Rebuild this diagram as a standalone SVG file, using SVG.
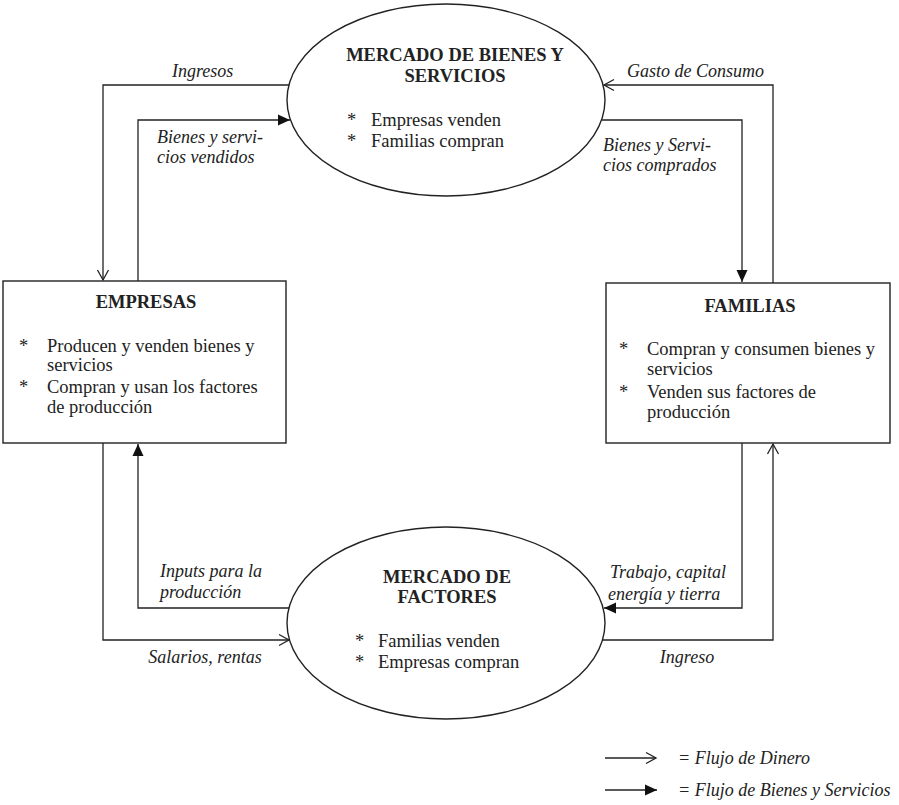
<svg xmlns="http://www.w3.org/2000/svg" width="899" height="805" viewBox="0 0 899 805">
<style>
.shape{fill:#fff;stroke:#222;stroke-width:1.4}
.ln{fill:none;stroke:#222;stroke-width:1.3}
.t{font-family:"Liberation Serif","Times New Roman",serif;font-size:18.5px;fill:#222}
.b{font-family:"Liberation Serif","Times New Roman",serif;font-size:18.5px;font-weight:bold;fill:#222;text-anchor:middle}
.i{font-family:"Liberation Serif","Times New Roman",serif;font-size:18px;font-style:italic;fill:#222}
</style>
<defs>
<marker id="open" markerUnits="userSpaceOnUse" markerWidth="14" markerHeight="14" refX="11" refY="6" orient="auto" overflow="visible">
<path d="M1,0.5 L11,6 L1,11.5" fill="none" stroke="#222" stroke-width="1.3"/>
</marker>
<marker id="fill" markerUnits="userSpaceOnUse" markerWidth="14" markerHeight="14" refX="12" refY="5.5" orient="auto" overflow="visible">
<path d="M0,0 L12,5.5 L0,11 z" fill="#111"/>
</marker>
</defs>
<rect width="899" height="805" fill="#fff"/>

<g id="connectors">
<!-- top left -->
<polyline class="ln" points="290,85 103,85 103,280" marker-end="url(#open)"/>
<polyline class="ln" points="138,281 138,120 290,120" marker-end="url(#fill)"/>
<!-- top right -->
<polyline class="ln" points="773,283 773,85 604,85" marker-end="url(#open)"/>
<polyline class="ln" points="602,120 742,120 742,282" marker-end="url(#fill)"/>
<!-- bottom left -->
<polyline class="ln" points="103,443 103,640 289,640" marker-end="url(#open)"/>
<polyline class="ln" points="289,608 138,608 138,444" marker-end="url(#fill)"/>
<!-- bottom right -->
<polyline class="ln" points="742,443 742,608 604,608" marker-end="url(#fill)"/>
<polyline class="ln" points="603,640 773,640 773,444" marker-end="url(#open)"/>
<!-- legend -->
<line class="ln" x1="605" y1="758" x2="656" y2="758" marker-end="url(#open)"/>
<line class="ln" x1="605" y1="790" x2="657" y2="790" marker-end="url(#fill)"/>
</g>

<g id="labels">
<text class="i" x="172" y="77">Ingresos</text>
<text class="i" x="157" y="143">Bienes y servi-</text>
<text class="i" x="157" y="163">cios vendidos</text>
<text class="i" x="627" y="77">Gasto de Consumo</text>
<text class="i" x="603" y="151">Bienes y Servi-</text>
<text class="i" x="603" y="171">cios comprados</text>
<text class="i" x="160" y="577">Inputs para la</text>
<text class="i" x="160" y="598">producción</text>
<text class="i" x="610" y="578">Trabajo, capital</text>
<text class="i" x="608" y="600">energía y tierra</text>
<text class="i" x="205" y="663" text-anchor="middle">Salarios, rentas</text>
<text class="i" x="687" y="663" text-anchor="middle">Ingreso</text>
<text class="i" x="678" y="764">= Flujo de Dinero</text>
<text class="i" x="678" y="796">= Flujo de Bienes y Servicios</text>
</g>

<g id="mercado-bienes">
<ellipse class="shape" cx="446" cy="100" rx="159" ry="96"/>
<text class="b" x="455" y="61">MERCADO DE BIENES Y</text>
<text class="b" x="455" y="82">SERVICIOS</text>
<text class="t" x="347" y="126">*</text>
<text class="t" x="371" y="126">Empresas venden</text>
<text class="t" x="347" y="147">*</text>
<text class="t" x="371" y="147">Familias compran</text>
</g>

<g id="empresas">
<rect class="shape" x="3" y="281" width="283" height="162"/>
<text class="b" x="146" y="308">EMPRESAS</text>
<text class="t" x="19" y="352">*</text>
<text class="t" x="47" y="352">Producen y venden bienes y</text>
<text class="t" x="47" y="371">servicios</text>
<text class="t" x="19" y="393">*</text>
<text class="t" x="47" y="393">Compran y usan los factores</text>
<text class="t" x="47" y="413">de producción</text>
</g>

<g id="familias">
<rect class="shape" x="606" y="283" width="284" height="160"/>
<text class="b" x="750" y="312">FAMILIAS</text>
<text class="t" x="619" y="355">*</text>
<text class="t" x="647" y="355">Compran y consumen bienes y</text>
<text class="t" x="647" y="375">servicios</text>
<text class="t" x="619" y="398">*</text>
<text class="t" x="647" y="398">Venden sus factores de</text>
<text class="t" x="647" y="418">producción</text>
</g>

<g id="mercado-factores">
<ellipse class="shape" cx="446" cy="623" rx="159" ry="96"/>
<text class="b" x="447" y="583">MERCADO DE</text>
<text class="b" x="447" y="603">FACTORES</text>
<text class="t" x="355" y="647">*</text>
<text class="t" x="378" y="647">Familias venden</text>
<text class="t" x="355" y="668">*</text>
<text class="t" x="378" y="668">Empresas compran</text>
</g>
</svg>
